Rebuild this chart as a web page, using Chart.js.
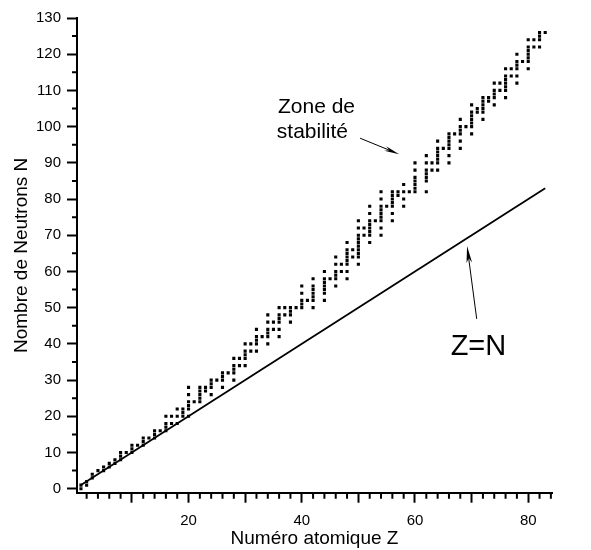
<!DOCTYPE html>
<html>
<head>
<meta charset="utf-8">
<script src="https://cdn.jsdelivr.net/npm/chart.js@4"></script>
<style>
  html, body { margin: 0; padding: 0; background: #fff; }
  #wrap { width: 591px; height: 550px; }
</style>
</head>
<body>
<div id="wrap"><canvas id="chart"></canvas></div>
<script>
// Nombre de neutrons N des noyaux stables, pour Z = 1..83
const numerosZ = Array.from({ length: 83 }, (_, i) => i + 1);
const neutronsStables = [
  [0, 1], [1, 2], [3, 4], [5], [5, 6], [6, 7], [7, 8], [8, 9, 10], [10], [10, 11, 12],
  [12], [12, 13, 14], [14], [14, 15, 16], [16], [16, 17, 18, 20], [18, 20], [18, 20, 22], [20, 21, 22], [20, 22, 23, 24, 26, 28],
  [24], [24, 25, 26, 27, 28], [27, 28], [26, 28, 29, 30], [30], [28, 30, 31, 32], [32], [30, 32, 33, 34, 36], [34, 36], [34, 36, 37, 38, 40],
  [38, 40], [38, 40, 41, 42, 44], [42], [40, 42, 43, 44, 46, 48], [44, 46], [42, 44, 46, 47, 48, 50], [48, 50], [46, 48, 49, 50], [50], [50, 51, 52, 54, 56],
  [52], [50, 52, 53, 54, 55, 56, 58], [], [52, 54, 55, 56, 57, 58, 60], [58], [56, 58, 59, 60, 62, 64], [60, 62], [58, 60, 62, 63, 64, 65, 66, 68], [64, 66], [62, 64, 65, 66, 67, 68, 69, 70, 72, 74],
  [70, 72], [68, 70, 71, 72, 73, 74, 76, 78], [74], [70, 72, 74, 75, 76, 77, 78, 80, 82], [78], [74, 76, 78, 79, 80, 81, 82], [81, 82], [78, 80, 82, 84], [82], [82, 83, 84, 85, 86, 88, 90],
  [], [82, 85, 86, 87, 88, 90, 92], [88, 90], [88, 90, 91, 92, 93, 94, 96], [94], [90, 92, 94, 95, 96, 97, 98], [98], [94, 96, 98, 99, 100, 102], [100], [98, 100, 101, 102, 103, 104, 106],
  [104, 105], [102, 104, 105, 106, 107, 108], [107, 108], [106, 108, 109, 110, 112], [110, 112], [108, 110, 111, 112, 113, 114, 116], [114, 116], [112, 114, 116, 117, 118, 120], [118], [116, 118, 119, 120, 121, 122, 124],
  [122, 124], [122, 124, 125, 126], [126]
];
// droite Z = N
const droiteZ = [1, 83];
const droiteN = [1, 83];

const ticksX = [10, 20, 30, 40, 50, 60, 70, 80];
const ticksY = [0, 10, 20, 30, 40, 50, 60, 70, 80, 90, 100, 110, 120, 130];
const mineursX = [2, 4, 6, 8, 12, 14, 16, 18, 22, 24, 26, 28, 32, 34, 36, 38, 42, 44, 46, 48, 52, 54, 56, 58, 62, 64, 66, 68, 72, 74, 76, 78, 82, 84];
const mineursY = [5, 15, 25, 35, 45, 55, 65, 75, 85, 95, 105, 115, 125];

const FONT = '"Liberation Sans", Arial, sans-serif';

const points = [];
numerosZ.forEach((z, i) => {
  neutronsStables[i].forEach(n => points.push({ x: z, y: n }));
});

// flèche avec pointe pleine
function fleche(ctx, x1, y1, x2, y2, long, larg) {
  const a = Math.atan2(y2 - y1, x2 - x1);
  ctx.beginPath();
  ctx.moveTo(x1, y1);
  ctx.lineTo(x2 - Math.cos(a) * long * 0.6, y2 - Math.sin(a) * long * 0.6);
  ctx.lineWidth = 1;
  ctx.stroke();
  ctx.beginPath();
  ctx.moveTo(x2, y2);
  ctx.lineTo(x2 - Math.cos(a) * long + Math.sin(a) * larg, y2 - Math.sin(a) * long - Math.cos(a) * larg);
  ctx.lineTo(x2 - Math.cos(a) * long * 0.7, y2 - Math.sin(a) * long * 0.7);
  ctx.lineTo(x2 - Math.cos(a) * long - Math.sin(a) * larg, y2 - Math.sin(a) * long + Math.cos(a) * larg);
  ctx.closePath();
  ctx.fill();
}

const decor = {
  id: 'decor',
  afterDraw(chart) {
    const ctx = chart.ctx;
    const sx = chart.scales.x, sy = chart.scales.y;
    const X = v => sx.getPixelForValue(v), Y = v => sy.getPixelForValue(v);
    ctx.save();
    ctx.strokeStyle = '#000';
    ctx.fillStyle = '#000';
    // graduations secondaires
    ctx.lineWidth = 2;
    ctx.beginPath();
    mineursY.forEach(v => { ctx.moveTo(sx.left - 5, Y(v)); ctx.lineTo(sx.left, Y(v)); });
    mineursX.forEach(v => { ctx.moveTo(X(v), sy.bottom); ctx.lineTo(X(v), sy.bottom + 6); });
    ctx.stroke();

    // textes
    ctx.textAlign = 'left';
    ctx.textBaseline = 'alphabetic';
    ctx.font = '21px ' + FONT;
    ctx.fillText('Zone de', X(35.8), Y(103.8));
    ctx.fillText('stabilité', X(35.6), Y(96.8));
    ctx.font = '29px ' + FONT;
    ctx.fillText('Z=N', X(66.3), Y(36.9));

    fleche(ctx, X(50.3), Y(96.8), X(57.2), Y(92.4), 15, 2.5);
    fleche(ctx, X(70.9), Y(46.9), X(69.2), Y(67.0), 17, 2.8);
    ctx.restore();
  }
};

new Chart(document.getElementById('chart'), {
  type: 'scatter',
  data: {
    datasets: [
      {
        label: 'Noyaux stables',
        data: points,
        pointStyle: 'rect',
        pointRadius: 2.2,
        borderWidth: 0,
        backgroundColor: '#000'
      },
      {
        label: 'Z=N',
        type: 'line',
        data: droiteZ.map((z, i) => ({ x: z, y: droiteN[i] })),
        borderColor: '#000',
        borderWidth: 1.8,
        pointRadius: 0,
        fill: false
      }
    ]
  },
  options: {
    responsive: true,
    maintainAspectRatio: false,
    animation: false,
    layout: { padding: { left: 10, top: 18, right: 39, bottom: 0 } },
    plugins: { legend: { display: false }, tooltip: { enabled: false } },
    scales: {
      x: {
        type: 'linear',
        min: 0.3,
        max: 84.2,
        afterBuildTicks: s => { s.ticks = ticksX.map(v => ({ value: v })); },
        afterFit: s => { s.height = 57.3; },
        border: { display: true, color: '#000', width: 2 },
        grid: { drawOnChartArea: false, drawTicks: true, tickLength: 10, tickColor: '#000', tickWidth: 2 },
        ticks: {
          autoSkip: false, maxRotation: 0, padding: 9, color: '#000',
          font: { family: FONT, size: 15 },
          callback: v => (v % 20 === 0 ? v : '')
        },
        title: {
          display: true, text: 'Numéro atomique Z', color: '#000',
          font: { family: FONT, size: 19 }, padding: { top: 0, bottom: 0 }
        }
      },
      y: {
        type: 'linear',
        min: -1.1,
        max: 130,
        afterBuildTicks: s => { s.ticks = ticksY.map(v => ({ value: v })); },
        afterFit: s => { s.width = 67; },
        border: { display: true, color: '#000', width: 2 },
        grid: { drawOnChartArea: false, drawTicks: true, tickLength: 10, tickColor: '#000', tickWidth: 2 },
        ticks: {
          autoSkip: false, padding: 6, color: '#000',
          font: { family: FONT, size: 15 }
        },
        title: {
          display: true, text: 'Nombre de Neutrons N', color: '#000',
          font: { family: FONT, size: 19 }, padding: { top: 0, bottom: 0 }
        }
      }
    }
  },
  plugins: [decor]
});
</script>
</body>
</html>
